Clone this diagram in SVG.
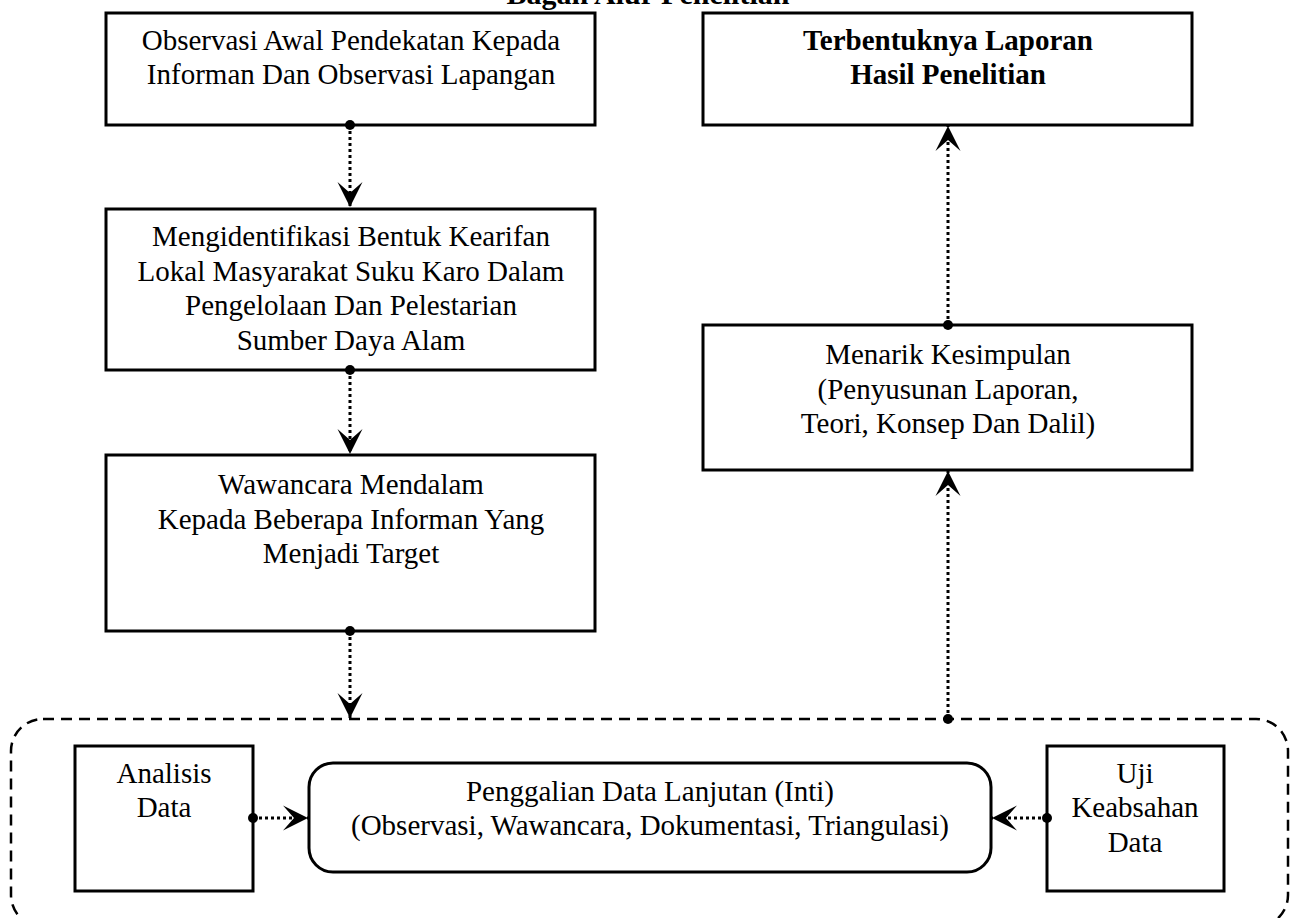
<svg xmlns="http://www.w3.org/2000/svg" width="1295" height="918" viewBox="0 0 1295 918">
<defs>
<marker id="arr" viewBox="-26 -14 28 28" markerWidth="28" markerHeight="28" refX="0" refY="0" orient="auto" markerUnits="userSpaceOnUse">
<path d="M0,0 L-25,-12.5 L-14,0 L-25,12.5 Z" fill="#000"/>
</marker>
<marker id="dot" viewBox="-6 -6 12 12" markerWidth="12" markerHeight="12" refX="0" refY="0" orient="auto" markerUnits="userSpaceOnUse">
<circle cx="0" cy="0" r="5" fill="#000"/>
</marker>
</defs>
<style>
.box{fill:#fff;stroke:#000;stroke-width:3}
.t{font-family:"Liberation Serif","Times New Roman",serif;font-size:29px;text-anchor:middle;fill:#000}
.b{font-weight:bold}
.ttl{font-size:30px}
.c{fill:none;stroke:#000;stroke-width:3;stroke-dasharray:3 3;marker-start:url(#dot);marker-end:url(#arr)}
.dash{fill:none;stroke:#000;stroke-width:2.5;stroke-dasharray:11 7}
</style>
<rect width="1295" height="918" fill="#fff"/>
<text class="t b ttl" x="648" y="4">Bagan Alur Penelitian</text>
<g id="group-container">
<rect class="dash" x="11" y="719" width="1277" height="208" rx="32"/>
</g>
<g id="n1">
<rect class="box" x="106" y="13" width="489" height="112"/>
<text class="t" x="351" y="50">Observasi Awal Pendekatan Kepada</text>
<text class="t" x="351" y="84">Informan Dan Observasi Lapangan</text>
</g>
<g id="n2">
<rect class="box" x="703" y="13" width="489" height="112"/>
<text class="t b" x="948" y="50">Terbentuknya Laporan</text>
<text class="t b" x="948" y="84">Hasil Penelitian</text>
</g>
<g id="n3">
<rect class="box" x="106" y="209" width="489" height="161"/>
<text class="t" x="351" y="246">Mengidentifikasi Bentuk Kearifan</text>
<text class="t" x="351" y="281">Lokal Masyarakat Suku Karo Dalam</text>
<text class="t" x="351" y="315">Pengelolaan Dan Pelestarian</text>
<text class="t" x="351" y="350">Sumber Daya Alam</text>
</g>
<g id="n4">
<rect class="box" x="106" y="455" width="489" height="176"/>
<text class="t" x="351" y="494">Wawancara Mendalam</text>
<text class="t" x="351" y="529">Kepada Beberapa Informan Yang</text>
<text class="t" x="351" y="563">Menjadi Target</text>
</g>
<g id="n5">
<rect class="box" x="703" y="325" width="489" height="145"/>
<text class="t" x="948" y="364">Menarik Kesimpulan</text>
<text class="t" x="948" y="399">(Penyusunan Laporan,</text>
<text class="t" x="948" y="433">Teori, Konsep Dan Dalil)</text>
</g>
<g id="n6">
<rect class="box" x="75" y="746" width="178" height="145"/>
<text class="t" x="164" y="783">Analisis</text>
<text class="t" x="164" y="817">Data</text>
</g>
<g id="n7">
<rect class="box" x="309" y="763" width="682" height="109" rx="24"/>
<text class="t" x="650" y="801">Penggalian Data Lanjutan (Inti)</text>
<text class="t" x="650" y="835">(Observasi, Wawancara, Dokumentasi, Triangulasi)</text>
</g>
<g id="n8">
<rect class="box" x="1047" y="746" width="177" height="145"/>
<text class="t" x="1135" y="783">Uji</text>
<text class="t" x="1135" y="817">Keabsahan</text>
<text class="t" x="1135" y="852">Data</text>
</g>
<g id="connectors">
<path class="c" d="M350,125 L350,207"/>
<path class="c" d="M350,370 L350,454"/>
<path class="c" d="M350,631 L350,718"/>
<path class="c" d="M948,719 L948,471"/>
<path class="c" d="M948,325 L948,126"/>
<path class="c" d="M253,818 L308,818"/>
<path class="c" d="M1047,818 L992,818"/>
</g>
</svg>
